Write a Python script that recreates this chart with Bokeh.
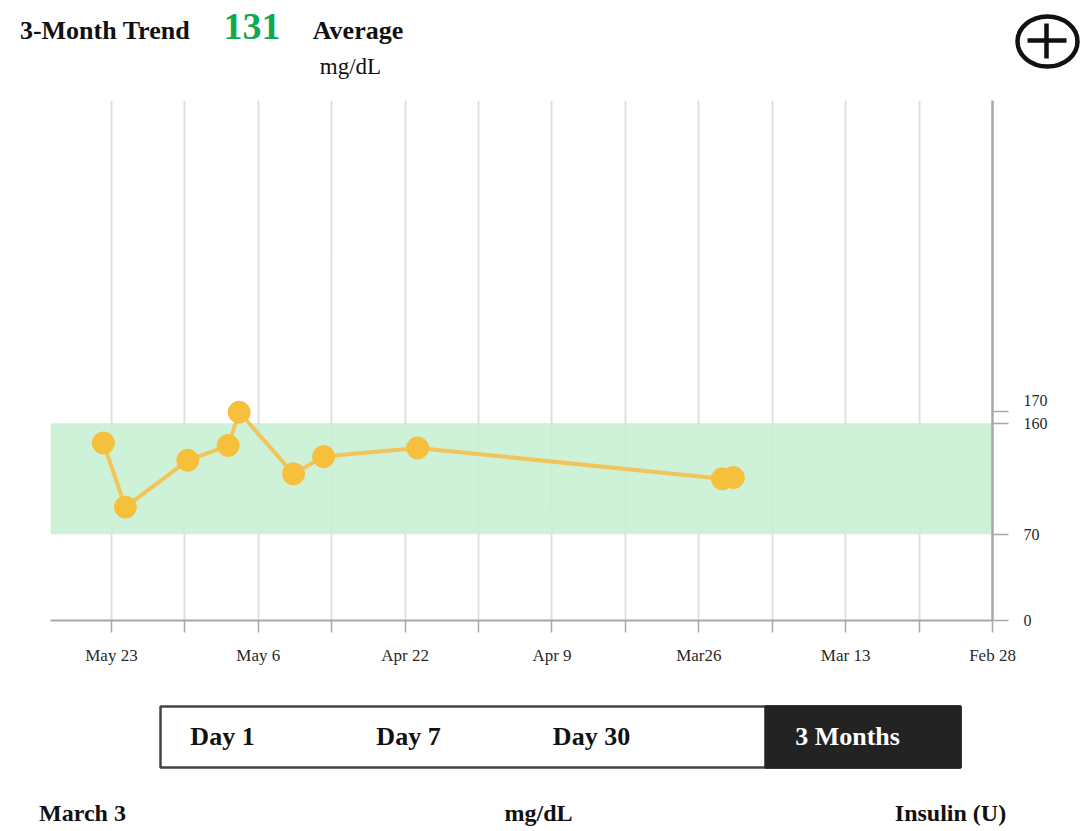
from bokeh.plotting import figure
from bokeh.layouts import column
from bokeh.models import Range1d, FixedTicker, BoxAnnotation, Label, ColumnDataSource
from bokeh.embed import file_html
from bokeh.resources import INLINE

# ---------------- data ----------------
tick_positions = list(range(13))
tick_labels = ["May 23", "", "May 6", "", "Apr 22", "", "Apr 9", "", "Mar26", "", "Mar 13", "", "Feb 28"]
# reading position along the (reversed, irregular) date axis, in tick units
reading_pos = [-0.11, 0.19, 1.04, 1.59, 1.74, 2.48, 2.89, 4.17, 8.32, 8.47]
reading_mgdl = [144, 92, 130, 142, 169, 119, 133, 140, 115, 116]
target_low, target_high = 70, 160
y_ticks = [0, 70, 160, 170]
average_value = "131"
period_buttons = ["Day 1", "Day 7", "Day 30", "3 Months"]
footer_labels = ["March 3", "mg/dL", "Insulin (U)"]

SERIF = "Liberation Serif"
W = 1083


def blank(h):
    f = figure(width=W, height=h, x_range=Range1d(0, W), y_range=Range1d(h, 0),
               output_backend="svg", toolbar_location=None, x_axis_location=None,
               y_axis_location=None, min_border=0, outline_line_color=None)
    f.grid.visible = False
    f.frame_align = False
    return f


def txt(f, x, y, t, size, bold=True, color="#111111"):
    f.add_layout(Label(x=x, y=y, text=t, text_font=SERIF,
                       text_font_style="bold" if bold else "normal",
                       text_font_size=size, text_align="center", text_baseline="middle",
                       text_color=color))


# ---------------- header ----------------
hdr_h = 96
hdr = blank(hdr_h)
txt(hdr, 104.5, 29.5, "3-Month Trend", "26px")
txt(hdr, 251.5, 25.5, average_value, "38px", color="#12A84F")
txt(hdr, 357.5, 30, "Average", "26px")
txt(hdr, 350, 66, "mg/dL", "23px", bold=False)
hdr.ellipse(x=[1047], y=[41], width=[60], height=[50], fill_color=None,
            line_color="#111111", line_width=4.5)
hdr.segment(x0=[1027, 1046], y0=[40, 23], x1=[1066, 1046], y1=[40, 58],
            line_color="#111111", line_width=4.5)

# ---------------- main chart ----------------
main_h = 584
p = figure(width=W, height=main_h, x_range=Range1d(-0.83, 12), y_range=Range1d(0, 422),
           output_backend="svg", toolbar_location=None, y_axis_location="right",
           min_border_left=50, min_border_right=91, min_border_top=4, min_border_bottom=60,
           outline_line_color=None)
p.frame_align = False

p.ygrid.visible = False
p.xgrid.ticker = FixedTicker(ticks=tick_positions)
p.xgrid.grid_line_color = "#E0E0E0"
p.xgrid.grid_line_width = 2

band = BoxAnnotation(bottom=target_low, top=target_high, fill_color="#C6F0D2", fill_alpha=0.88,
                     line_color=None, level="underlay")
p.add_layout(band)

xa = p.xaxis[0]
xa.ticker = FixedTicker(ticks=tick_positions)
xa.major_label_overrides = {i: t for i, t in zip(tick_positions, tick_labels)}
xa.axis_line_color = "#A8A8A8"
xa.axis_line_width = 2
xa.major_tick_line_color = "#A8A8A8"
xa.major_tick_line_width = 1.5
xa.major_tick_in = 0
xa.major_tick_out = 12
xa.minor_tick_line_color = None
xa.major_label_standoff = 13
xa.major_label_text_font = SERIF
xa.major_label_text_font_size = "17px"
xa.major_label_text_color = "#2A2A2A"

ya = p.yaxis[0]
ya.ticker = FixedTicker(ticks=y_ticks)
ya.major_label_overrides = {170: "170\n"}
ya.axis_line_color = "#A8A8A8"
ya.axis_line_width = 2.5
ya.major_tick_line_color = "#A8A8A8"
ya.major_tick_line_width = 1.5
ya.major_tick_in = 0
ya.major_tick_out = 16
ya.minor_tick_line_color = None
ya.major_label_standoff = 15
ya.major_label_text_font = SERIF
ya.major_label_text_font_size = "16px"
ya.major_label_text_color = "#1F1F3A"

src = ColumnDataSource(data=dict(x=reading_pos, y=reading_mgdl))
p.line("x", "y", source=src, line_color="#F2C45A", line_width=4)
p.scatter("x", "y", source=src, size=22, fill_color="#F6BF3C", line_color="#F6BF3C")

# ---------------- buttons + footer ----------------
low_h = 149
low = blank(low_h)
low.quad(left=[160], right=[960], top=[26], bottom=[87], fill_color="#FFFFFF",
         line_color="#444444", line_width=2.5)
low.quad(left=[765], right=[960], top=[26], bottom=[87], fill_color="#232323",
         line_color="#232323", line_width=2.5)
btn_x = [222, 408, 591, 847]
btn_col = ["#111111", "#111111", "#111111", "#FFFFFF"]
for bx, bt, bc in zip(btn_x, period_buttons, btn_col):
    txt(low, bx, 56, bt, "26px", color=bc)
foot_x = [82, 538, 950]
for fx, ft in zip(foot_x, footer_labels):
    txt(low, fx, 132, ft, "24px")

layout = column(hdr, p, low, spacing=0)
open("out.html", "w").write(file_html(layout, INLINE))
